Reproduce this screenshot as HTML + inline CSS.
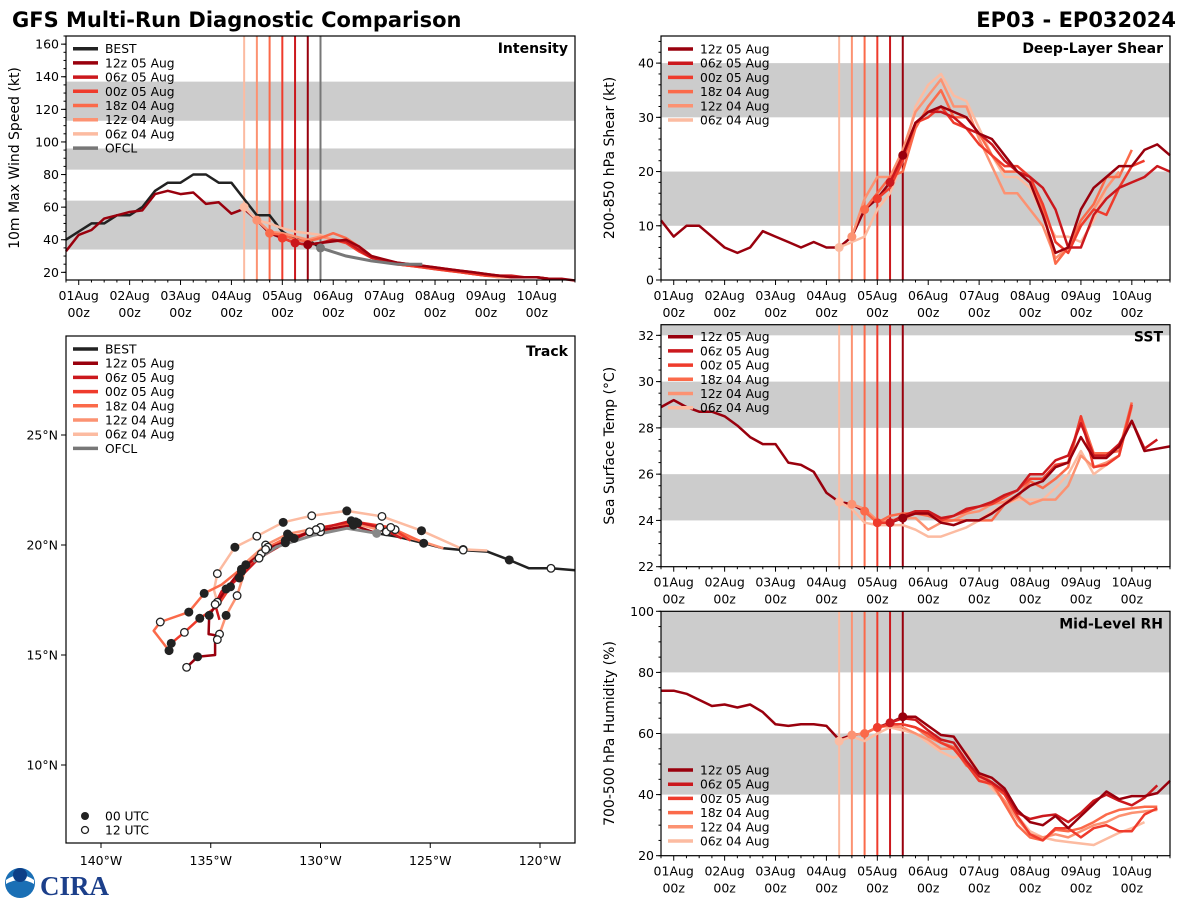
<!DOCTYPE html>
<html><head><meta charset="utf-8">
<style>
html,body{margin:0;padding:0;background:#fff;}
svg{display:block;font-family:"DejaVu Sans","Liberation Sans",sans-serif;}
</style></head>
<body>
<svg id="fig" width="1200" height="900" viewBox="0 0 1200 900" xmlns="http://www.w3.org/2000/svg">
<text x="12" y="27" font-size="21" font-weight="bold" fill="#000">GFS Multi-Run Diagnostic Comparison</text>
<text x="1176" y="27" font-size="21" font-weight="bold" fill="#000" text-anchor="end">EP03 - EP032024</text>
<g>
<circle cx="20" cy="883" r="15" fill="#1a6fb5"/>
<path d="M6 880 Q20 870 34 880 L34 884 Q20 876 6 884 Z" fill="#fff"/>
<circle cx="20" cy="875" r="7" fill="#0d3e86"/>
<text x="40" y="895" font-size="27" font-weight="bold" fill="#1c3f8a" font-family="Liberation Serif, serif">CIRA</text>
</g>
</svg>
<script>
// ---------- data ----------
const runNames = ["06z 04 Aug","12z 04 Aug","18z 04 Aug","00z 05 Aug","06z 05 Aug","12z 05 Aug"];
const runInit = [3.25,3.5,3.75,4.0,4.25,4.5];
const dayLabels = ["01Aug","02Aug","03Aug","04Aug","05Aug","06Aug","07Aug","08Aug","09Aug","10Aug"];

const bestInt = [40,45,50,50,55,55,60,70,75,75,80,80,75,75,65,55,55,45,40,40,35];
const histInt = [33,43,46,53,55,57,58,68,70,68,69,62,63,56,59,52,44,41,38,37];
const intRuns = [
 [60,52,50,47,45,44,43,40,39,36,30,27,25,24,23,22,21,20,19,18,17],
 [52,45,44,42,40,42,40,39,34,29,27,25,24,23,22,21,20,19,18,17,17,17],
 [44,43,40,39,41,44,41,36,30,27,25,24,24,22,22,20,19,18,18,17,17],
 [41,38,37,38,40,38,33,29,27,25,24,23,22,21,20,19,18,18,17,17,17,16],
 [38,37,38,40,39,34,29,27,26,25,24,23,22,21,20,19,18,18,17,17,16,16],
 [37,38,39,40,36,30,28,26,25,24,23,22,21,20,19,18,17,17,17,16,16,15]];
const ofclInt = [35,30,27,25,25];

const histShr = [11,8,10,10,8,6,5,6,9,8,7,6,7,6,6,8,13,15,18,23];
const shrRuns = [
 [6,7,8,13,16,22,32,36,38,34,33,28,23,19,19,17,12,8,8,7,11,17,20],
 [8,15,19,19,24,31,34,37,32,32,26,21,16,16,13,10,4,6,10,13,17,20],
 [13,16,19,20,28,32,35,30,30,27,23,20,20,18,13,3,6,11,14,19,19,24],
 [15,17,22,29,30,32,29,28,25,23,21,21,19,14,7,5,10,13,12,17,21,22],
 [18,23,29,31,31,30,28,27,25,22,20,19,17,13,6,6,12,15,17,18,19,21,20],
 [23,29,31,32,31,30,27,26,23,20,18,12,5,6,13,17,19,21,21,24,25,23]];

const histSst = [28.9,29.2,28.9,28.7,28.7,28.5,28.1,27.6,27.3,27.3,26.5,26.4,26.1,25.2,24.8,24.7,24.4,23.9,23.9,24.1];
const sstRuns = [
 [24.8,24.5,23.9,23.8,23.8,23.8,23.6,23.3,23.3,23.5,23.7,24.0,24.4,24.7,24.9,24.9,24.9,25.4,26.0,27.0,26.0,26.4,26.8],
 [24.7,24.5,24.0,24.0,24.1,24.1,23.6,23.9,24.0,24.3,24.4,24.7,24.8,25.1,24.7,24.9,24.9,25.5,26.8,26.3,26.5,26.8,28.9],
 [24.4,23.9,24.2,24.3,24.3,24.2,24.0,24.0,24.0,24.0,24.0,24.7,25.0,25.7,25.4,25.8,26.3,28.5,26.9,26.9,27.0,29.1],
 [23.9,23.9,24.2,24.3,24.3,24.0,24.2,24.4,24.6,24.7,25.0,25.3,25.8,25.8,26.4,26.5,28.5,26.3,26.4,26.8,29.0],
 [23.9,24.2,24.4,24.4,24.1,24.2,24.5,24.6,24.8,25.1,25.3,26.0,26.0,26.6,26.8,28.2,26.8,26.8,27.3,28.3,27.1,27.5],
 [24.1,24.3,24.3,23.9,23.8,24.0,24.0,24.3,24.7,25.1,25.5,25.7,26.3,26.5,27.6,26.7,26.7,27.2,28.3,27.0,27.1,27.2]];

const histRh = [74,74,73,71,69,69.5,68.5,69.5,67,63,62.5,63,63,62.5,58,59.5,60,62,63.5,65.5];
const rhRuns = [
 [57.5,59,57.5,60,62,61,60,57,54,52,54,47,42,38,33,28,26,25,24.5,24,23.5,25.5,27.5,29,31],
 [59.5,60,62,62.5,62,60,58,55,55,50,45,43,38,32,27,26,27,26,28,30,31,33,34,34.5,35],
 [60,62,63,63,62,59,57,55.5,49.5,47,44,37,30,26,25,28.5,28,29,31,33.5,35,35.5,36,36],
 [62,63,63,62,60,57,55,50,44.5,43.5,40,33,27,25,29,29,26,29,30,28,28,33.5,35.5],
 [63.5,65,64.5,61,58,57,51,46,44,41,34,32,33,33.5,31,34,38,40,38,36.5,39,43],
 [65.5,65.5,62.5,59.5,59,53,47,45.5,42,35,31,30,33,29,33,37,41,38.5,39.5,39.5,40.5,44.5]];

// track [lon, lat, marker] marker: 0 none, 1 00UTC dot, 2 12UTC open
const bestTrack = [[-118.4,18.85,0],[-119.5,18.94,2],[-120.5,18.94,0],[-121.4,19.32,1],[-122.4,19.7,0],[-123.5,19.77,2],[-124.4,19.85,0],[-125.3,20.08,1],[-126.5,20.38,0],[-127.44,20.53,0]];
const ofclTrack = [[-127.44,20.53,0],[-128.8,20.76,0],[-130.3,20.45,0],[-132,19.92,0],[-133.06,19.24,0]];
const runTracks = [
 [[-122.4,19.75,0],[-123.5,19.8,2],[-125.4,20.65,1],[-127.2,21.3,2],[-128.8,21.55,1],[-130.4,21.33,2],[-131.7,21.03,1],[-132.9,20.4,2],[-133.9,19.9,1],[-134.7,18.7,2],[-134.85,17.95,0],[-134.7,17.4,2]],
 [[-124.4,19.85,0],[-125.5,20.2,0],[-127,20.6,2],[-128.5,21.0,1],[-130,20.8,2],[-131.5,20.5,1],[-132.5,20.0,2],[-133.3,19.3,0],[-133.8,17.7,2],[-134.3,16.8,1],[-134.6,15.95,2],[-134.7,15.7,2]],
 [[-125.3,20.1,0],[-126.6,20.7,2],[-128.3,21.0,1],[-130,20.6,2],[-131.4,20.4,1],[-132.4,19.9,2],[-133.4,19.1,1],[-134.5,18.2,0],[-135.3,17.8,1],[-136,16.95,1],[-137.3,16.5,2],[-137.6,16.1,0],[-136.9,15.2,1]],
 [[-125.9,20.2,0],[-126.8,20.8,2],[-128.4,21.05,1],[-130,20.8,2],[-131.6,20.2,1],[-132.7,19.6,2],[-133.6,18.8,1],[-134.1,18.1,1],[-134.7,17.2,0],[-135.5,16.67,1],[-136.2,16.03,2],[-136.8,15.53,1]],
 [[-126.3,20.3,0],[-127.3,20.8,2],[-128.6,21.1,1],[-130.2,20.7,2],[-131.6,20.1,1],[-132.8,19.4,2],[-133.7,18.5,1],[-134.5,17.9,0],[-134.8,17.3,2],[-134.6,16.6,0]],
 [[-127.44,20.53,0],[-128.5,20.9,1],[-130.5,20.6,2],[-131.2,20.3,1],[-132.5,19.8,2],[-133.6,18.9,1],[-134.3,18.0,1],[-135.07,16.8,1],[-135.1,15.95,0],[-134.8,15.9,0],[-134.8,15.0,0],[-135.6,14.92,1],[-136.1,14.44,2]]];

// ---------- rendering ----------
const NS = "http://www.w3.org/2000/svg";
const svg = document.getElementById("fig");
const runColors = ["#fcbba1","#fc9272","#fb6a4a","#ef3b2c","#cb181d","#99000d"];
function mk(tag, attrs, parent){const e=document.createElementNS(NS,tag);for(const k in attrs)e.setAttribute(k,attrs[k]);(parent||svg).appendChild(e);return e;}
function txt(s,attrs,parent){const e=mk("text",attrs,parent);e.textContent=s;return e;}

function tsPanel(p){
  const g=mk("g",{});
  
  
  const X=d=>p.x0+(d+0.25)/10*(p.x1-p.x0);
  const Y=v=>p.y1-(v-p.vmin)/(p.vmax-p.vmin)*(p.y1-p.y0);
  const cy=v=>Math.max(p.y0,Math.min(p.y1,Y(v)));
  p.bands.forEach(b=>{const r=mk("rect",{x:p.x0,y:cy(b[1]),width:p.x1-p.x0,height:cy(b[0])-cy(b[1]),fill:"#cccccc"},g);
    
    });
  const line=(d0,vals,col,w)=>{const pts=vals.map((v,i)=>X(d0+i*0.25).toFixed(1)+","+Y(v).toFixed(1)).join(" ");
    const l=mk("polyline",{points:pts,fill:"none",stroke:col,"stroke-width":w,"stroke-linejoin":"round"},g);
    
    return l;};
  runInit.forEach((d,i)=>{const l=mk("line",{x1:X(d),x2:X(d),y1:p.y0,y2:p.y1,stroke:runColors[i],"stroke-width":2},g);
    
    });
  if(p.ofcl){const l=mk("line",{x1:X(4.75),x2:X(4.75),y1:p.y0,y2:p.y1,stroke:"#777","stroke-width":2},g);
    
    }
  if(p.best) line(-0.25,p.best,"#222",2.5);
  line(-0.25,p.hist,"#99000d",2.5);
  p.runs.forEach((r,i)=>line(runInit[i],r,runColors[i],2.5));
  if(p.ofcl){const pts=p.ofcl.map((v,i)=>X(4.75+i*0.5).toFixed(1)+","+Y(v).toFixed(1)).join(" ");
    const l=mk("polyline",{points:pts,fill:"none",stroke:"#777","stroke-width":3},g);
    
    
    mk("circle",{cx:X(4.75),cy:Y(p.ofcl[0]),r:4.5,fill:"#777"},g);}
  p.runs.forEach((r,i)=>{const c=mk("circle",{cx:X(runInit[i]),cy:Y(r[0]),r:4.5,fill:runColors[i]},g);
    
    });
  mk("rect",{x:p.x0,y:p.y0,width:p.x1-p.x0,height:p.y1-p.y0,fill:"none",stroke:"#000","stroke-width":1.2},g);
  for(let v=p.vmin0;v<=p.vmax+1e-6;v+=p.minor){const y=Y(v);if(y<p.y0-0.5||y>p.y1+0.5)continue;mk("line",{x1:p.x0-2.5,x2:p.x0,y1:y,y2:y,stroke:"#000"},g);}
  for(let v=p.tick0;v<=p.vmax+1e-6;v+=p.major){const y=Y(v);mk("line",{x1:p.x0-5,x2:p.x0,y1:y,y2:y,stroke:"#000"},g);
    const t=txt(String(v),{x:p.x0-7,y:y+4.5,"font-size":12.5,"text-anchor":"end"},g);
    
    }
  for(let d=-0.25;d<=9.75;d+=0.25){mk("line",{x1:X(d),x2:X(d),y1:p.y1,y2:p.y1+(Number.isInteger(d)?5:2.5),stroke:"#000"},g);}
  dayLabels.forEach((s,i)=>{const a=txt(s,{x:X(i),y:p.y1+20,"font-size":12.5,"text-anchor":"middle"},g);
    
    
    txt("00z",{x:X(i),y:p.y1+37,"font-size":12.5,"text-anchor":"middle"},g);});
  const yl=txt(p.ylabel,{x:0,y:0,"font-size":14,"text-anchor":"middle",transform:`translate(${p.x0-47},${(p.y0+p.y1)/2}) rotate(-90)`},g);
  
  
  const ti=txt(p.title,{x:p.x1-7,y:p.y0+17,"font-size":14,"font-weight":"bold","text-anchor":"end"},g);
  
  
  legend(g,p.x0+7,p.legY,p.best?true:false,p.ofcl?true:false);
}
function legend(g,x,y,withBest,withOfcl){
  const lg=mk("g",{},g);
  
  
  const items=[];
  if(withBest)items.push(["BEST","#222"]);
  for(let i=5;i>=0;i--)items.push([runNames[i],runColors[i]]);
  if(withOfcl)items.push(["OFCL","#777"]);
  items.forEach((it,k)=>{const yy=y+k*14.2;
    const e=mk("g",{},lg);
    
    
    mk("line",{x1:x,x2:x+25,y1:yy,y2:yy,stroke:it[1],"stroke-width":3.5},e);
    txt(it[0],{x:x+32,y:yy+4.5,"font-size":12.3},e);});
}

tsPanel({name:"intensity-panel",x0:66,x1:575,y0:36,y1:280,vmin:15.3,vmax:165,vmin0:20,tick0:20,major:20,minor:5,
  bands:[[34,64],[83,96],[113,137]],best:bestInt,hist:histInt,runs:intRuns,ofcl:ofclInt,
  ylabel:"10m Max Wind Speed (kt)",title:"Intensity",legY:48.7});
tsPanel({name:"shear-panel",x0:661,x1:1170,y0:36,y1:280,vmin:0,vmax:45,vmin0:0,tick0:0,major:10,minor:2,
  bands:[[10,20],[30,40]],hist:histShr,runs:shrRuns,ylabel:"200-850 hPa Shear (kt)",title:"Deep-Layer Shear",legY:49});
tsPanel({name:"sst-panel",x0:661,x1:1170,y0:324.7,y1:566.7,vmin:22,vmax:32.46,vmin0:22,tick0:22,major:2,minor:0.5,
  bands:[[24,26],[28,30],[32,33]],hist:histSst,runs:sstRuns,ylabel:"Sea Surface Temp (°C)",title:"SST",legY:336.7});
tsPanel({name:"rh-panel",x0:661,x1:1170,y0:611.3,y1:855.7,vmin:20,vmax:100,vmin0:20,tick0:20,major:20,minor:5,
  bands:[[40,60],[80,100]],hist:histRh,runs:rhRuns,ylabel:"700-500 hPa Humidity (%)",title:"Mid-Level RH",legY:770});

(function(){
  const x0=66,x1=575,y0=336,y1=843;
  const g=mk("g",{});
  
  
  const LX=lon=>101+(lon+140)*21.95;
  const LY=lat=>545-(lat-20)*22;
  mk("rect",{x:x0,y:y0,width:x1-x0,height:y1-y0,fill:"#fff",stroke:"none"},g);
  const drawTrack=(tr,col,w,name)=>{const pts=tr.map(p=>LX(p[0]).toFixed(1)+","+LY(p[1]).toFixed(1)).join(" ");
    const l=mk("polyline",{points:pts,fill:"none",stroke:col,"stroke-width":w,"stroke-linejoin":"round"},g);
    
    };
  const drawMarks=tr=>tr.forEach(p=>{if(!p[2])return;
    const c=mk("circle",{cx:LX(p[0]),cy:LY(p[1]),r:p[2]===1?4.5:3.8,fill:p[2]===1?"#222":"#fff",stroke:"#222","stroke-width":p[2]===1?0:1.3},g);
    
    });
  drawTrack(bestTrack,"#222",2.5,"best-track");
  runTracks.forEach((t,i)=>drawTrack(t,runColors[i],2.5,"run-track"));
  drawTrack(ofclTrack,"#888",3,"ofcl-track");
  runTracks.forEach(t=>drawMarks(t));
  drawMarks(bestTrack);
  mk("circle",{cx:LX(ofclTrack[0][0]),cy:LY(ofclTrack[0][1]),r:4.5,fill:"#888"},g);
  mk("rect",{x:x0,y:y0,width:x1-x0,height:y1-y0,fill:"none",stroke:"#000","stroke-width":1.2},g);
  [-140,-135,-130,-125,-120].forEach(lon=>{const x=LX(lon);mk("line",{x1:x,x2:x,y1:y1,y2:y1+5,stroke:"#000"},g);
    const t=txt(Math.abs(lon)+"°W",{x:x,y:y1+22,"font-size":12.5,"text-anchor":"middle"},g);
    
    });
  [10,15,20,25].forEach(lat=>{const y=LY(lat);mk("line",{x1:x0-5,x2:x0,y1:y,y2:y,stroke:"#000"},g);
    const t=txt(lat+"°N",{x:x0-8,y:y+4.5,"font-size":12.5,"text-anchor":"end"},g);
    
    });
  txt("Track",{x:x1-7,y:y0+20,"font-size":14,"font-weight":"bold","text-anchor":"end"},g);
  legend(g,73,349,true,true);
  const ml=mk("g",{},g);
  
  
  mk("circle",{cx:85,cy:816,r:4,fill:"#222"},ml);
  txt("00 UTC",{x:105,y:820.5,"font-size":12.3},ml);
  mk("circle",{cx:85,cy:830,r:3.5,fill:"#fff",stroke:"#222","stroke-width":1.3},ml);
  txt("12 UTC",{x:105,y:834.5,"font-size":12.3},ml);
})();
</script>
</body></html>
